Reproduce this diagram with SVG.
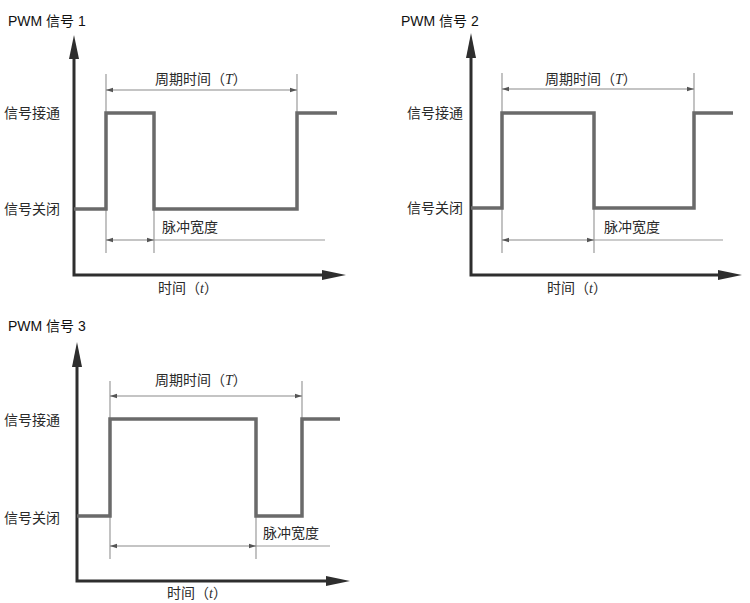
<svg xmlns="http://www.w3.org/2000/svg" width="750" height="603" viewBox="0 0 750 603">
<style>
  .axis { fill: none; stroke: #2e2e2e; stroke-width: 3; stroke-linejoin: miter; }
  .head { fill: #2e2e2e; }
  .sig { fill: none; stroke: #6a6a6a; stroke-width: 3.5; stroke-linejoin: miter; stroke-linecap: butt; }
  .ext { stroke: #9a9a9a; stroke-width: 1.2; fill: none; }
  .dim { stroke: #8a8a8a; stroke-width: 1.2; fill: none; }
  .lbl { font-family: "Noto Sans CJK SC", "Noto Sans", sans-serif; font-size: 14px; fill: #2a2a2a; }
  .ttl { font-family: "Liberation Sans", "Noto Sans CJK SC", sans-serif; font-size: 14px; fill: #111; }
  .it { font-family: "Liberation Serif", serif; font-style: italic; }
</style>
<defs>
  <marker id="da" markerUnits="userSpaceOnUse" markerWidth="7" markerHeight="6" viewBox="0 0 7 6" refX="7" refY="3" orient="auto-start-reverse">
    <path d="M0,0.8 L7,3 L0,5.2 z" fill="#555"/>
  </marker>
</defs>

<!-- Panel 1 -->
<g id="pwm1">
  <text class="ttl" x="8" y="26">PWM 信号 1</text>
  <g id="pwm1-axes">
    <path class="axis" d="M74,58 V275 H323"/>
    <polygon class="head" points="74,35 69,59 79,59"/>
    <polygon class="head" points="346,275 322,270 322,280"/>
  </g>
  <g id="pwm1-dims">
    <line class="ext" x1="106" y1="74" x2="106" y2="253"/>
    <line class="ext" x1="297" y1="74" x2="297" y2="113"/>
    <line class="ext" x1="154" y1="209" x2="154" y2="253"/>
    <line class="dim" x1="106" y1="90" x2="297" y2="90" marker-start="url(#da)" marker-end="url(#da)"/>
    <line class="dim" x1="106" y1="240" x2="154" y2="240" marker-start="url(#da)" marker-end="url(#da)"/>
    <line class="ext" x1="154" y1="240" x2="325" y2="240"/>
  </g>
  <polyline class="sig" points="74,209 106,209 106,113 154,113 154,209 297,209 297,113 337,113"/>
  <text class="lbl" x="4" y="118">信号接通</text>
  <text class="lbl" x="4" y="214">信号关闭</text>
  <text class="lbl" x="155" y="84">周期时间（<tspan class="it">T</tspan>）</text>
  <text class="lbl" x="162" y="232">脉冲宽度</text>
  <text class="lbl" x="158" y="293">时间（<tspan class="it">t</tspan>）</text>
</g>

<!-- Panel 2 -->
<g id="pwm2">
  <text class="ttl" x="401" y="26">PWM 信号 2</text>
  <g id="pwm2-axes">
    <path class="axis" d="M471,57 V275 H719"/>
    <polygon class="head" points="471,33 466,58 476,58"/>
    <polygon class="head" points="742,275 718,270 718,280"/>
  </g>
  <g id="pwm2-dims">
    <line class="ext" x1="502" y1="73" x2="502" y2="253"/>
    <line class="ext" x1="694" y1="73" x2="694" y2="113"/>
    <line class="ext" x1="594" y1="208" x2="594" y2="253"/>
    <line class="dim" x1="502" y1="89" x2="694" y2="89" marker-start="url(#da)" marker-end="url(#da)"/>
    <line class="dim" x1="502" y1="240" x2="594" y2="240" marker-start="url(#da)" marker-end="url(#da)"/>
    <line class="ext" x1="594" y1="240" x2="723" y2="240"/>
  </g>
  <polyline class="sig" points="471,208 502,208 502,113 594,113 594,208 694,208 694,113 733,113"/>
  <text class="lbl" x="407" y="118">信号接通</text>
  <text class="lbl" x="407" y="213">信号关闭</text>
  <text class="lbl" x="545" y="84">周期时间（<tspan class="it">T</tspan>）</text>
  <text class="lbl" x="604" y="232">脉冲宽度</text>
  <text class="lbl" x="547" y="293">时间（<tspan class="it">t</tspan>）</text>
</g>

<!-- Panel 3 -->
<g id="pwm3">
  <text class="ttl" x="8" y="331">PWM 信号 3</text>
  <g id="pwm3-axes">
    <path class="axis" d="M77,366 V581 H327"/>
    <polygon class="head" points="77,342 72,367 82,367"/>
    <polygon class="head" points="350,581 326,576 326,586"/>
  </g>
  <g id="pwm3-dims">
    <line class="ext" x1="110" y1="381" x2="110" y2="559"/>
    <line class="ext" x1="302" y1="381" x2="302" y2="419"/>
    <line class="ext" x1="256" y1="516" x2="256" y2="559"/>
    <line class="dim" x1="110" y1="396" x2="302" y2="396" marker-start="url(#da)" marker-end="url(#da)"/>
    <line class="dim" x1="110" y1="546" x2="256" y2="546" marker-start="url(#da)" marker-end="url(#da)"/>
    <line class="ext" x1="256" y1="546" x2="330" y2="546"/>
  </g>
  <polyline class="sig" points="77,516 110,516 110,419 256,419 256,516 302,516 302,419 340,419"/>
  <text class="lbl" x="4" y="425">信号接通</text>
  <text class="lbl" x="4" y="523">信号关闭</text>
  <text class="lbl" x="155" y="385">周期时间（<tspan class="it">T</tspan>）</text>
  <text class="lbl" x="263" y="538">脉冲宽度</text>
  <text class="lbl" x="167" y="598">时间（<tspan class="it">t</tspan>）</text>
</g>
</svg>
